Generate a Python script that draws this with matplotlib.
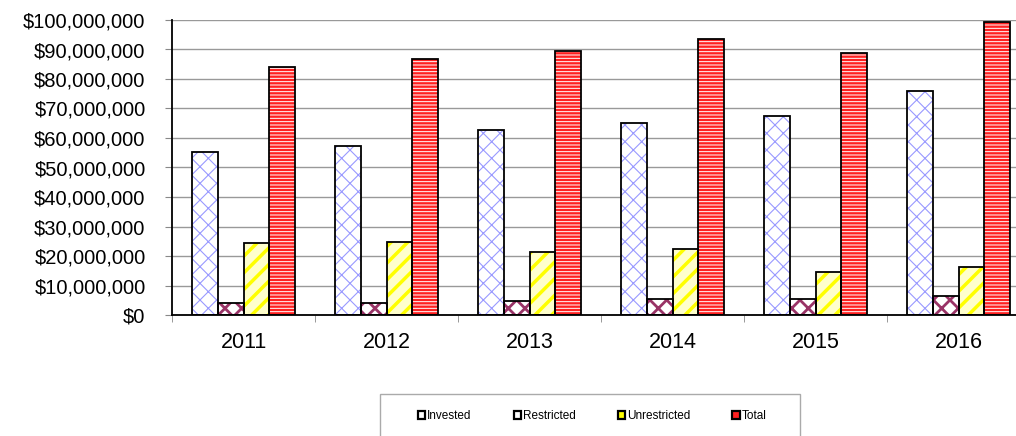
import numpy as np
import matplotlib
matplotlib.use("Agg")
import matplotlib.pyplot as plt
from matplotlib.patches import Patch, Rectangle
from matplotlib.ticker import FuncFormatter

plt.rcParams['font.family'] = ['Liberation Sans', 'DejaVu Sans']

years = ['2011', '2012', '2013', '2014', '2015', '2016']
invested = [55.2e6, 57.3e6, 62.7e6, 65.1e6, 67.6e6, 76.0e6]
restricted = [4.0e6, 4.1e6, 4.7e6, 5.3e6, 5.4e6, 6.5e6]
unrestricted = [24.3e6, 24.9e6, 21.2e6, 22.5e6, 14.7e6, 16.2e6]
total = [84.0e6, 86.7e6, 89.5e6, 93.6e6, 88.7e6, 99.4e6]
series_names = ['Invested', 'Restricted', 'Unrestricted', 'Total']

# face colour, hatch, hatch colour, hatch linewidth
styles = [
    ('white', 'xx', '#9999ff', 0.8),
    ('white', 'xx', '#993366', 2.0),
    ('#ffffcc', '//', '#ffff00', 2.5),
    ('#ff2020', '-----', 'white', 0.7),
]
legend_faces = ['white', 'white', '#ffff00', '#ff2020']

W, H = 1016, 436
fig = plt.figure(figsize=(W / 100, H / 100), dpi=100)
ax = fig.add_axes([172 / W, 121 / H, 858 / W, 295 / H])

x = np.arange(len(years))
bw = 0.18
data = [invested, restricted, unrestricted, total]
for i, vals in enumerate(data):
    face, hatch, hcol, hlw = styles[i]
    pos = x + (i - 1.5) * bw
    with plt.rc_context({'hatch.linewidth': hlw}):
        bars = ax.bar(pos, vals, bw, color=face, edgecolor=hcol, hatch=hatch,
                      linewidth=0, zorder=2)
        for b in bars:
            if hasattr(b, 'set_hatch_linewidth'):
                b.set_hatch_linewidth(hlw)
    ax.bar(pos, vals, bw, fill=False, edgecolor='black', linewidth=1.3, zorder=3)

ax.set_xlim(-0.5, len(years) - 0.5)
ax.set_ylim(0, 100e6)
ax.set_yticks(np.arange(0, 100e6 + 1, 10e6))
ax.yaxis.set_major_formatter(FuncFormatter(lambda v, p: '${:,.0f}'.format(v)))
ax.set_xticks(x)
ax.set_xticklabels(years)
ax.set_xticks(np.arange(-0.5, len(years), 1), minor=True)
ax.tick_params(axis='x', which='major', length=0, pad=12, labelsize=15.5)
ax.tick_params(axis='x', which='minor', length=5, color='#888888', direction='out')
ax.tick_params(axis='y', length=5, color='#888888', labelsize=14.5, pad=14)

ax.grid(axis='y', color='#999999', linewidth=1, zorder=0)
ax.set_axisbelow(True)
for s in ['top', 'right']:
    ax.spines[s].set_visible(False)
ax.spines['left'].set_linewidth(1.3)
ax.spines['bottom'].set_linewidth(1.3)

# legend box
fig.patches.append(Rectangle((380 / W, -0.05), 420 / W, 42 / H + 0.05,
                             transform=fig.transFigure, fill=False,
                             edgecolor='#aaaaaa', linewidth=1))
handles = [Patch(facecolor=legend_faces[i], edgecolor='black', linewidth=1.6)
           for i in range(4)]
fig.legend(handles, series_names, loc='center left',
           bbox_to_anchor=(418 / W, 20 / H), ncol=4, frameon=False,
           fontsize=8.5, handlelength=0.6, handleheight=0.6, handletextpad=0.15,
           columnspacing=3.6, borderpad=0, borderaxespad=0)

fig.savefig('out.png', dpi=100)
